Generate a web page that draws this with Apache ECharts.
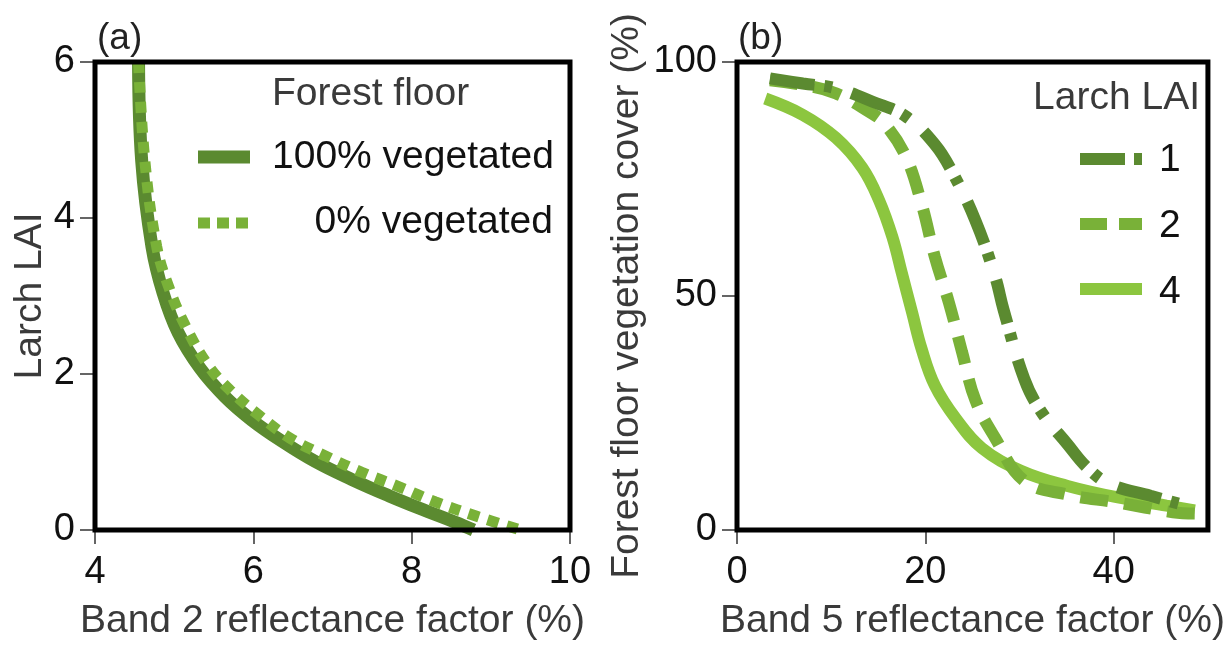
<!DOCTYPE html>
<html>
<head>
<meta charset="utf-8">
<script src="https://cdn.jsdelivr.net/npm/echarts@6/dist/echarts.min.js"></script>
<style>html,body{margin:0;padding:0;background:#fff}#c{width:1228px;height:646px}</style>
</head>
<body>
<div id="c"></div>
<script>
// Panel (a): Band 2 reflectance factor (%) vs Larch LAI
var vegetated100 = [[4.55,6.0],[4.59,4.73],[4.72,3.63],[4.86,3.04],[5.05,2.53],[5.33,2.07],[5.64,1.71],[5.98,1.41],[6.36,1.14],[6.78,0.88],[7.24,0.65],[7.71,0.44],[8.17,0.25],[8.55,0.10],[8.78,0.0]];
var vegetated0 = [[4.55,6.0],[4.63,4.73],[4.78,3.63],[4.93,3.12],[5.14,2.62],[5.43,2.11],[5.73,1.77],[6.06,1.48],[6.46,1.18],[6.91,0.95],[7.37,0.74],[7.85,0.55],[8.30,0.36],[8.84,0.17],[9.38,0.0]];
// Panel (b): Band 5 reflectance factor (%) vs forest floor vegetation cover (%)
var lai1 = [[3.5,96.5],[7.0,95.4],[10.5,94.4],[14.4,91.5],[17.9,88.4],[21.0,82.4],[22.8,76.7],[25.3,66.2],[27.4,54.2],[28.3,47.1],[30.5,32.3],[32.3,25.3],[35.1,18.3],[37.2,13.3],[39.6,9.8],[43.9,7.3],[47.7,5.2]];
var lai2 = [[3.5,96.1],[7.0,95.1],[10.5,93.3],[14.0,89.4],[15.6,87.0],[17.9,79.9],[19.6,69.7],[21.0,58.4],[22.5,48.6],[23.9,38.0],[25.3,27.8],[27.4,19.7],[30.5,10.5],[35.0,7.6],[40.3,5.9],[46.3,3.8],[48.6,3.5]];
var lai4 = [[3.0,92.2],[7.0,88.7],[10.5,83.8],[13.3,77.4],[15.1,70.4],[16.5,62.6],[17.5,54.9],[18.6,46.4],[19.6,38.7],[21.0,30.9],[23.2,23.9],[26.0,17.5],[30.2,12.6],[35.1,9.4],[40.3,7.0],[45.6,5.2],[48.6,4.2]];
var xTicksA = [4,6,8,10];
var yTicksA = [0,2,4,6];
var xTicksB = [0,20,40];
var yTicksB = [0,50,100];

var FONT = "'Liberation Sans', Arial, sans-serif";
var cDark = '#5b8a30', cMid = '#79b138', cLight = '#8cc63f';

function xAxisCfg(grid, min, max, ticks, name, nameGap) {
  return {
    type: 'value', gridIndex: grid, min: min, max: max, interval: ticks[1]-ticks[0],
    name: name, nameLocation: 'middle', nameGap: nameGap,
    nameTextStyle: {fontFamily: FONT, fontSize: 39, color: '#3a3a3a'},
    axisLine: {show: false},
    axisTick: {show: true, length: 14, lineStyle: {color: '#333', width: 1.5}, customValues: ticks},
    axisLabel: {margin: 24, fontFamily: FONT, fontSize: 38, color: '#111', customValues: ticks},
    splitLine: {show: false}
  };
}
function yAxisCfg(grid, min, max, ticks, name, nameGap) {
  return {
    type: 'value', gridIndex: grid, min: min, max: max, interval: ticks[1]-ticks[0],
    name: name, nameLocation: 'middle', nameGap: nameGap, nameRotate: 90,
    nameTextStyle: {fontFamily: FONT, fontSize: 39, color: '#3a3a3a'},
    axisLine: {show: false},
    axisTick: {show: true, length: 15, lineStyle: {color: '#333', width: 1.5}, customValues: ticks},
    axisLabel: {margin: 20, fontFamily: FONT, fontSize: 38, color: '#111', customValues: ticks},
    splitLine: {show: false}
  };
}

var chart = echarts.init(document.getElementById('c'), null, {renderer: 'canvas'});
chart.setOption({
  backgroundColor: '#fff',
  animation: false,
  grid: [
    {left: 95, top: 62, width: 475, height: 473, show: true, borderColor: '#000', borderWidth: 5, backgroundColor: 'transparent', z: 10},
    {left: 737, top: 62, width: 476, height: 473, show: true, borderColor: '#000', borderWidth: 5, backgroundColor: 'transparent', z: 10}
  ],
  xAxis: [
    xAxisCfg(0, 4, 10, xTicksA, 'Band 2 reflectance factor (%)', 72),
    xAxisCfg(1, 0, 50, xTicksB, 'Band 5 reflectance factor (%)', 72)
  ],
  yAxis: [
    yAxisCfg(0, 0, 6, yTicksA, 'Larch LAI', 43),
    yAxisCfg(1, 0, 100, yTicksB, 'Forest floor vegetation cover (%)', 90)
  ],
  series: [
    {type: 'line', name: '100% vegetated', xAxisIndex: 0, yAxisIndex: 0, data: vegetated100, smooth: 0.4, showSymbol: false,
     lineStyle: {color: cDark, width: 13}},
    {type: 'line', name: '0% vegetated', xAxisIndex: 0, yAxisIndex: 0, data: vegetated0, smooth: 0.4, showSymbol: false,
     lineStyle: {color: cMid, width: 11, type: [11, 9]}},
    {type: 'line', name: '4', xAxisIndex: 1, yAxisIndex: 1, data: lai4, smooth: 0.4, showSymbol: false,
     lineStyle: {color: cLight, width: 12}},
    {type: 'line', name: '2', xAxisIndex: 1, yAxisIndex: 1, data: lai2, smooth: 0.4, showSymbol: false,
     lineStyle: {color: cMid, width: 12, type: [28, 16]}},
    {type: 'line', name: '1', xAxisIndex: 1, yAxisIndex: 1, data: lai1, smooth: 0.4, showSymbol: false,
     lineStyle: {color: cDark, width: 12, type: [45, 10, 8, 20]}}
  ],
  graphic: [
    {type: 'text', left: 97, top: 20, style: {text: '(a)', font: '37px ' + FONT, fill: '#222'}},
    {type: 'text', left: 738, top: 20, style: {text: '(b)', font: '37px ' + FONT, fill: '#222'}},
    // legend (a)
    {type: 'text', x: 272, y: 94, style: {text: 'Forest floor', font: '39px ' + FONT, fill: '#3a3a3a', verticalAlign: 'middle'}},
    {type: 'line', shape: {x1: 198, y1: 157, x2: 250, y2: 157}, style: {stroke: cDark, lineWidth: 13}},
    {type: 'text', x: 272, y: 157, style: {text: '100% vegetated', font: '39px ' + FONT, fill: '#111', verticalAlign: 'middle'}},
    {type: 'line', shape: {x1: 198, y1: 223, x2: 250, y2: 223}, style: {stroke: cMid, lineWidth: 11, lineDash: [12, 7]}},
    {type: 'text', x: 553, y: 222, style: {text: '0% vegetated', font: '39px ' + FONT, fill: '#111', verticalAlign: 'middle', align: 'right'}},
    // legend (b)
    {type: 'text', x: 1200, y: 98, style: {text: 'Larch LAI', font: '39px ' + FONT, fill: '#3a3a3a', verticalAlign: 'middle', align: 'right'}},
    {type: 'line', shape: {x1: 1080, y1: 159, x2: 1142, y2: 159}, style: {stroke: cDark, lineWidth: 12, lineDash: [45, 9, 8, 20]}},
    {type: 'text', x: 1159, y: 160, style: {text: '1', font: '39px ' + FONT, fill: '#111', verticalAlign: 'middle'}},
    {type: 'line', shape: {x1: 1080, y1: 224, x2: 1142, y2: 224}, style: {stroke: cMid, lineWidth: 12, lineDash: [27, 12]}},
    {type: 'text', x: 1159, y: 226, style: {text: '2', font: '39px ' + FONT, fill: '#111', verticalAlign: 'middle'}},
    {type: 'line', shape: {x1: 1080, y1: 289, x2: 1142, y2: 289}, style: {stroke: cLight, lineWidth: 12}},
    {type: 'text', x: 1159, y: 292, style: {text: '4', font: '39px ' + FONT, fill: '#111', verticalAlign: 'middle'}}
  ]
});
</script>
</body>
</html>
